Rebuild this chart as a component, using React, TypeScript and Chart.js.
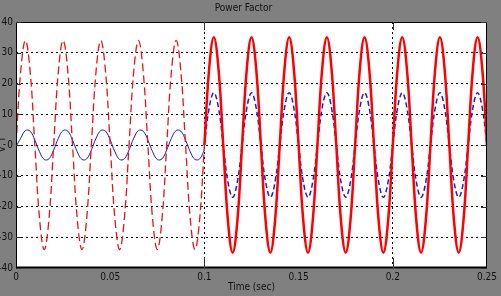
import React, { useEffect, useRef } from "react";
import { Chart, registerables } from "chart.js";

Chart.register(...registerables);

const TITLE = "Power Factor";
const X_TITLE = "Time (sec)";
const Y_TITLE = "V, I";

const X_TICKS = [0, 0.05, 0.1, 0.15, 0.2, 0.25];
const X_TICK_LABELS = ["0", "0.05", "0.1", "0.15", "0.2", "0.25"];
const Y_TICKS = [-40, -30, -20, -10, 0, 10, 20, 30, 40];
const Y_TICK_LABELS = ["-40", "-30", "-20", "-10", "0", "10", "20", "30", "40"];

const T_LEFT = [
  0, 0.0025, 0.005, 0.0075, 0.01, 0.0125, 0.015, 0.0175, 0.02, 0.0225,
  0.025, 0.0275, 0.03, 0.0325, 0.035, 0.0375, 0.04, 0.0425, 0.045, 0.0475,
  0.05, 0.0525, 0.055, 0.0575, 0.06, 0.0625, 0.065, 0.0675, 0.07, 0.0725,
  0.075, 0.0775, 0.08, 0.0825, 0.085, 0.0875, 0.09, 0.0925, 0.095, 0.0975,
  0.1,
];

const RED_LEFT = [
  0, 24, 34, 24, 0, -24, -34, -24,
  0, 24, 34, 24, 0, -24, -34, -24,
  0, 24, 34, 24, 0, -24, -34, -24,
  0, 24, 34, 24, 0, -24, -34, -24,
  0, 24, 34, 24, 0, -24, -34, -24,
  0,
];

const BLUE_LEFT = [
  -0.5, 2.2, 4.7, 4.5, 1.6, -2.2, -4.7, -4.5,
  -1.6, 2.2, 4.7, 4.5, 1.6, -2.2, -4.7, -4.5,
  -1.6, 2.2, 4.7, 4.5, 1.6, -2.2, -4.7, -4.5,
  -1.6, 2.2, 4.7, 4.5, 1.6, -2.2, -4.7, -4.5,
  -1.6, 2.2, 4.7, 4.5, 1.6, -2.2, -4.7, -4.5,
  -1.6,
];

const T_RIGHT = [
  0.1, 0.1025, 0.105, 0.1075, 0.11, 0.1125, 0.115, 0.1175, 0.12, 0.1225,
  0.125, 0.1275, 0.13, 0.1325, 0.135, 0.1375, 0.14, 0.1425, 0.145, 0.1475,
  0.15, 0.1525, 0.155, 0.1575, 0.16, 0.1625, 0.165, 0.1675, 0.17, 0.1725,
  0.175, 0.1775, 0.18, 0.1825, 0.185, 0.1875, 0.19, 0.1925, 0.195, 0.1975,
  0.2, 0.2025, 0.205, 0.2075, 0.21, 0.2125, 0.215, 0.2175, 0.22, 0.2225,
  0.225, 0.2275, 0.23, 0.2325, 0.235, 0.2375, 0.24, 0.2425, 0.245, 0.2475,
  0.25,
];

const RED_RIGHT = [
  0, 24.7, 35, 24.7, 0, -24.7, -35, -24.7,
  0, 24.7, 35, 24.7, 0, -24.7, -35, -24.7,
  0, 24.7, 35, 24.7, 0, -24.7, -35, -24.7,
  0, 24.7, 35, 24.7, 0, -24.7, -35, -24.7,
  0, 24.7, 35, 24.7, 0, -24.7, -35, -24.7,
  0, 24.7, 35, 24.7, 0, -24.7, -35, -24.7,
  0, 24.7, 35, 24.7, 0, -24.7, -35, -24.7,
  0, 24.7, 35, 24.7, 0,
];

const BLUE_RIGHT = [
  0, 12, 17, 12, 0, -12, -17, -12,
  0, 12, 17, 12, 0, -12, -17, -12,
  0, 12, 17, 12, 0, -12, -17, -12,
  0, 12, 17, 12, 0, -12, -17, -12,
  0, 12, 17, 12, 0, -12, -17, -12,
  0, 12, 17, 12, 0, -12, -17, -12,
  0, 12, 17, 12, 0, -12, -17, -12,
  0, 12, 17, 12, 0,
];

const X_GRID_AT = [0.1, 0.2];

const FONT = "'Liberation Sans Narrow', 'DejaVu Sans Condensed', Arial, sans-serif";

const near = (a: number, b: number) => Math.abs(a - b) < 1e-6;

const pts = (xs: number[], ys: number[]) => xs.map((x, i) => ({ x, y: ys[i] }));

const framePlugin = {
  id: "matlabFrame",
  beforeDraw(chart: any) {
    const { ctx, chartArea: a, width, height } = chart;
    ctx.save();
    ctx.fillStyle = "#808080";
    ctx.fillRect(0, 0, width, height);
    ctx.fillStyle = "#ffffff";
    ctx.fillRect(a.left, a.top, a.right - a.left, a.bottom - a.top);
    ctx.restore();
  },
  afterDatasetsDraw(chart: any) {
    const { ctx, chartArea: a, scales } = chart;
    ctx.save();
    ctx.strokeStyle = "#000000";
    ctx.lineWidth = 1;
    ctx.strokeRect(a.left + 0.5, a.top + 0.5, a.right - a.left - 1, a.bottom - a.top - 1);
    ctx.lineWidth = 2;
    ctx.beginPath();
    ctx.moveTo(a.left, a.bottom - 0.5);
    ctx.lineTo(a.right, a.bottom - 0.5);
    ctx.stroke();
    // inward tick marks
    ctx.strokeStyle = "#303030";
    ctx.lineWidth = 1;
    ctx.beginPath();
    X_GRID_AT.forEach((v) => {
      const x = Math.round(scales.x.getPixelForValue(v)) + 0.5;
      ctx.moveTo(x, a.top);
      ctx.lineTo(x, a.top + 8);
      ctx.moveTo(x, a.bottom);
      ctx.lineTo(x, a.bottom - 10);
    });
    Y_TICKS.forEach((v) => {
      const y = Math.round(scales.y.getPixelForValue(v)) + 0.5;
      ctx.moveTo(a.left, y);
      ctx.lineTo(a.left + 5, y);
      ctx.moveTo(a.right, y);
      ctx.lineTo(a.right - 6, y);
    });
    ctx.stroke();
    ctx.restore();
  },
};

export default function App() {
  const ref = useRef<HTMLCanvasElement | null>(null);

  useEffect(() => {
    document.body.style.margin = "0";
    const canvas = ref.current;
    if (!canvas) return;
    const chart = new Chart(canvas, {
      type: "line",
      data: {
        datasets: [
          {
            label: "Voltage (before)",
            data: pts(T_LEFT, RED_LEFT),
            borderColor: "#ee1111",
            borderWidth: 1.3,
            borderDash: [8, 4],
            pointRadius: 0,
            tension: 0.4,
            fill: false,
          },
          {
            label: "Current (before)",
            data: pts(T_LEFT, BLUE_LEFT),
            borderColor: "#1a1acc",
            borderWidth: 1,
            pointRadius: 0,
            tension: 0.4,
            fill: false,
          },
          {
            label: "Voltage (after)",
            data: pts(T_RIGHT, RED_RIGHT),
            borderColor: "#ff0000",
            borderWidth: 2.5,
            pointRadius: 0,
            tension: 0.4,
            fill: false,
          },
          {
            label: "Current (after)",
            data: pts(T_RIGHT, BLUE_RIGHT),
            borderColor: "#1a1add",
            borderWidth: 1.5,
            borderDash: [5, 3],
            pointRadius: 0,
            tension: 0.4,
            fill: false,
          },
        ],
      },
      options: {
        animation: false,
        responsive: false,
        maintainAspectRatio: false,
        layout: { padding: { top: 0, right: 14, bottom: 0, left: 0 } },
        plugins: {
          legend: { display: false },
          tooltip: { enabled: false },
          title: {
            display: true,
            text: TITLE,
            color: "#111111",
            font: { family: FONT, size: 10, weight: "normal", lineHeight: 1.2 },
            padding: { top: 2, bottom: 8 },
          },
        },
        scales: {
          x: {
            type: "linear",
            min: 0,
            max: 0.25,
            afterBuildTicks: (scale: any) => {
              scale.ticks = X_TICKS.map((v) => ({ value: v }));
            },
            afterFit: (scale: any) => {
              scale.height = 28;
            },
            ticks: {
              color: "#111111",
              font: { family: FONT, size: 10 },
              padding: 3,
              maxRotation: 0,
              autoSkip: false,
              callback: (v: any) => {
                const i = X_TICKS.findIndex((t) => near(t, Number(v)));
                return i >= 0 ? X_TICK_LABELS[i] : "";
              },
            },
            grid: {
              drawTicks: false,
              color: (c: any) =>
                c.tick && X_GRID_AT.some((g) => near(g, c.tick.value)) ? "#000000" : "rgba(0,0,0,0)",
              lineWidth: 1,
            },
            border: { display: false, dash: [2, 3] },
            title: {
              display: true,
              text: X_TITLE,
              color: "#111111",
              font: { family: FONT, size: 10, lineHeight: 1.2 },
              padding: { top: 0, bottom: 3 },
            },
          },
          y: {
            type: "linear",
            min: -40,
            max: 40,
            afterBuildTicks: (scale: any) => {
              scale.ticks = Y_TICKS.map((v) => ({ value: v }));
            },
            afterFit: (scale: any) => {
              scale.width = 16;
            },
            ticks: {
              color: "#111111",
              font: { family: FONT, size: 10 },
              padding: 3,
              autoSkip: false,
              callback: (v: any) => {
                const i = Y_TICKS.findIndex((t) => near(t, Number(v)));
                return i >= 0 ? Y_TICK_LABELS[i] : "";
              },
            },
            grid: {
              drawTicks: false,
              color: (c: any) =>
                c.tick && (near(c.tick.value, 40) || near(c.tick.value, -40)) ? "rgba(0,0,0,0)" : "#000000",
              lineWidth: 1,
            },
            border: { display: false, dash: [2, 3] },
            title: {
              display: true,
              text: Y_TITLE,
              color: "#111111",
              font: { family: FONT, size: 10, lineHeight: 0.4 },
              padding: 0,
            },
          },
        },
      },
      plugins: [framePlugin],
    } as any);
    return () => chart.destroy();
  }, []);

  return (
    <div style={{ position: "fixed", left: 0, top: 0, width: 501, height: 296 }}>
      <canvas ref={ref} width={501} height={296} style={{ display: "block", width: 501, height: 296 }} />
    </div>
  );
}
